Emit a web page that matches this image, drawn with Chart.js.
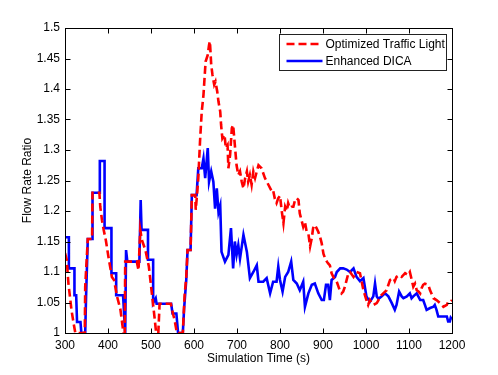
<!DOCTYPE html>
<html>
<head>
<meta charset="utf-8">
<script src="https://cdn.jsdelivr.net/npm/chart.js@4.4.1/dist/chart.umd.min.js"></script>
<style>
  html, body { margin: 0; padding: 0; background: #fff; }
  #wrap { width: 498px; height: 375px; }
</style>
</head>
<body>
<div id="wrap"><canvas id="flowChart" width="498" height="375"></canvas></div>
<script>
// series: simulation time (s) and flow rate ratio
const seriesLabels = ['Optimized Traffic Light', 'Enhanced DICA'];

const lightTime = [300, 304, 308, 315, 320, 324, 346, 347, 353, 363, 364, 380, 382, 386, 390, 395, 401, 409, 414, 421,
  429, 433, 436, 439, 440, 467, 471, 475, 479, 487, 495, 502, 508, 512, 517, 520, 546, 551, 555, 559,
  561, 574, 578, 582, 585, 592, 595, 603, 604, 607, 610, 614, 618, 622, 624, 627, 632, 635, 637, 640,
  643, 647, 650, 654, 657, 661, 663, 666, 671, 674, 678, 680, 684, 688, 691, 695, 699, 703, 707, 711,
  715, 719, 723, 726, 730, 734, 738, 742, 746, 750, 757, 765, 773, 781, 784, 788, 792, 796, 800, 804,
  808, 812, 816, 819, 823, 827, 831, 835, 839, 843, 846, 850, 854, 858, 862, 866, 870, 874, 877, 881,
  885, 889, 893, 897, 901, 905, 909, 912, 916, 920, 924, 928, 932, 936, 940, 943, 947, 951, 955, 959,
  963, 971, 978, 986, 994, 1001, 1005, 1009, 1013, 1017, 1025, 1029, 1033, 1040, 1048, 1052, 1056, 1064, 1067, 1071,
  1077, 1083, 1091, 1098, 1102, 1110, 1114, 1118, 1122, 1126, 1129, 1133, 1137, 1145, 1149, 1157, 1164, 1172, 1180, 1188,
  1191, 1197, 1200];
const lightRatio = [1.131, 1.12, 1.081, 1.038, 1.016, 1.0, 1.0, 1.076, 1.154, 1.154, 1.23, 1.23, 1.207, 1.185, 1.169, 1.152, 1.125, 1.092, 1.087, 1.06,
  1.038, 1.016, 1.0, 1.0, 1.117, 1.117, 1.103, 1.169, 1.152, 1.136, 1.109, 1.065, 1.027, 1.0, 1.0, 1.048, 1.048, 1.032, 1.021, 1.005,
  1.0, 1.0, 1.06, 1.092, 1.136, 1.136, 1.226, 1.226, 1.202, 1.226, 1.254, 1.314, 1.363, 1.39, 1.412, 1.445, 1.456, 1.472, 1.478, 1.44,
  1.423, 1.407, 1.412, 1.396, 1.379, 1.363, 1.341, 1.319, 1.325, 1.303, 1.308, 1.27, 1.292, 1.336, 1.341, 1.308, 1.275, 1.259, 1.265, 1.248,
  1.237, 1.254, 1.265, 1.248, 1.259, 1.243, 1.265, 1.254, 1.265, 1.275, 1.27, 1.254, 1.243, 1.232, 1.234, 1.22, 1.213, 1.221, 1.225, 1.2,
  1.18, 1.207, 1.2, 1.213, 1.205, 1.207, 1.207, 1.218, 1.221, 1.218, 1.196, 1.185, 1.174, 1.182, 1.166, 1.163, 1.142, 1.156, 1.172, 1.177,
  1.172, 1.166, 1.158, 1.147, 1.13, 1.122, 1.117, 1.114, 1.111, 1.098, 1.092, 1.087, 1.084, 1.076, 1.068, 1.065, 1.068, 1.076, 1.087, 1.098,
  1.1, 1.092, 1.1, 1.098, 1.07, 1.054, 1.046, 1.054, 1.049, 1.046, 1.049, 1.054, 1.06, 1.065, 1.07, 1.079, 1.087, 1.09, 1.085, 1.092,
  1.095, 1.092, 1.098, 1.095, 1.1, 1.076, 1.081, 1.07, 1.068, 1.065, 1.073, 1.079, 1.081, 1.079, 1.07, 1.057, 1.054, 1.049, 1.043, 1.046,
  1.051, 1.051, 1.054];

const dicaTime = [300, 309, 309, 322, 322, 326, 328, 336, 338, 347, 349, 353, 364, 364, 381, 381, 392, 392, 408, 408,
  419, 419, 435, 440, 442, 445, 473, 476, 478, 493, 493, 505, 505, 511, 513, 547, 550, 559, 563, 574,
  577, 582, 585, 592, 595, 606, 610, 618, 622, 626, 632, 635, 640, 645, 649, 653, 657, 661, 664, 672,
  680, 686, 691, 695, 699, 703, 707, 715, 723, 730, 738, 746, 750, 761, 769, 777, 784, 792, 796, 800,
  806, 812, 819, 826, 831, 839, 846, 854, 858, 866, 874, 881, 889, 897, 902, 907, 912, 916, 920, 928,
  932, 940, 947, 955, 963, 971, 978, 986, 994, 1001, 1009, 1017, 1021, 1025, 1029, 1036, 1044, 1052, 1060, 1067,
  1071, 1077, 1083, 1087, 1095, 1102, 1106, 1110, 1118, 1126, 1133, 1137, 1141, 1149, 1157, 1160, 1164, 1168, 1188, 1191,
  1195, 1197, 1200];
const dicaRatio = [1.157, 1.157, 1.106, 1.106, 1.062, 1.062, 1.018, 1.018, 1.0, 1.0, 1.06, 1.154, 1.154, 1.23, 1.23, 1.282, 1.282, 1.172, 1.172, 1.098,
  1.098, 1.062, 1.062, 1.0, 1.136, 1.117, 1.117, 1.218, 1.169, 1.169, 1.12, 1.12, 1.049, 1.057, 1.048, 1.048, 1.032, 1.032, 1.0, 1.0,
  1.04, 1.087, 1.136, 1.136, 1.226, 1.226, 1.27, 1.27, 1.286, 1.254, 1.303, 1.248, 1.265, 1.248, 1.204, 1.237, 1.198, 1.209, 1.133, 1.117,
  1.128, 1.172, 1.106, 1.15, 1.128, 1.144, 1.122, 1.161, 1.133, 1.09, 1.1, 1.111, 1.084, 1.084, 1.09, 1.065, 1.084, 1.084, 1.109, 1.087,
  1.068, 1.092, 1.1, 1.117, 1.087, 1.081, 1.07, 1.084, 1.043, 1.065, 1.079, 1.081, 1.065, 1.054, 1.054, 1.079, 1.079, 1.054, 1.087, 1.092,
  1.1, 1.106, 1.106, 1.104, 1.1, 1.106, 1.092, 1.085, 1.09, 1.06, 1.051, 1.06, 1.081, 1.06, 1.056, 1.06, 1.065, 1.06, 1.049, 1.038,
  1.046, 1.068, 1.06, 1.057, 1.06, 1.065, 1.057, 1.06, 1.065, 1.054, 1.054, 1.046, 1.038, 1.041, 1.043, 1.046, 1.038, 1.027, 1.027, 1.019,
  1.019, 1.025, 1.022];

// axis ticks
const xTicks = [300, 400, 500, 600, 700, 800, 900, 1000, 1100, 1200];
const yTicks = [1, 1.05, 1.1, 1.15, 1.2, 1.25, 1.3, 1.35, 1.4, 1.45, 1.5];
const yTickLabels = ['1', '1.05', '1.1', '1.15', '1.2', '1.25', '1.3', '1.35', '1.4', '1.45', '1.5'];

const FONT = 'Liberation Sans, Arial, Helvetica, sans-serif';

function toPoints(xs, ys) {
    return xs.map((x, i) => ({ x: x, y: ys[i] }));
}

// box round the plot, with matlab style ticks pointing inward on all sides
const frameTicks = {
    id: 'frameTicks',
    afterDatasetsDraw(chart) {
        const { ctx, chartArea: a, scales } = chart;
        const L = Math.round(a.left) + 0.5, R = Math.round(a.right) + 0.5;
        const T = Math.round(a.top) + 0.5, B = Math.round(a.bottom) + 0.5;
        ctx.save();
        ctx.strokeStyle = '#000';
        ctx.lineWidth = 1;
        ctx.beginPath();
        scales.x.ticks.forEach(t => {
            const px = Math.round(scales.x.getPixelForValue(t.value)) + 0.5;
            ctx.moveTo(px, B); ctx.lineTo(px, B - 5);
            ctx.moveTo(px, T); ctx.lineTo(px, T + 5);
        });
        scales.y.ticks.forEach(t => {
            const py = Math.round(scales.y.getPixelForValue(t.value)) + 0.5;
            ctx.moveTo(L, py); ctx.lineTo(L + 5, py);
            ctx.moveTo(R, py); ctx.lineTo(R - 5, py);
        });
        ctx.stroke();
        ctx.strokeRect(L, T, R - L, B - T);
        ctx.restore();
    }
};

// legend box in the top right corner of the plot
const boxLegend = {
    id: 'boxLegend',
    afterDraw(chart) {
        const { ctx, chartArea: a } = chart;
        const sets = chart.data.datasets;
        ctx.save();
        ctx.font = '12px ' + FONT;
        const textW = Math.max(...sets.map(d => ctx.measureText(d.label).width));
        const w = Math.round(48 + textW), h = 36;
        const x0 = Math.round(a.right - 6 - w) + 0.5, y0 = Math.round(a.top + 6) + 0.5;
        ctx.fillStyle = '#fff';
        ctx.fillRect(x0, y0, w, h);
        ctx.strokeStyle = '#222';
        ctx.lineWidth = 1;
        ctx.strokeRect(x0, y0, w, h);
        sets.forEach((d, i) => {
            const cy = y0 + 9.5 + i * 17;
            ctx.beginPath();
            ctx.strokeStyle = d.borderColor;
            ctx.lineWidth = d.borderWidth;
            ctx.setLineDash(d.borderDash || []);
            ctx.moveTo(x0 + 7, cy);
            ctx.lineTo(x0 + 43, cy);
            ctx.stroke();
            ctx.setLineDash([]);
            ctx.fillStyle = '#000';
            ctx.textBaseline = 'middle';
            ctx.fillText(d.label, x0 + 46, cy + 0.5);
        });
        ctx.restore();
    }
};

const data = {
    datasets: [{
        label: seriesLabels[0],
        data: toPoints(lightTime, lightRatio),
        borderColor: '#ff0000',
        borderWidth: 2.6,
        borderDash: [8, 4],
        pointRadius: 0,
        tension: 0,
        fill: false
    }, {
        label: seriesLabels[1],
        data: toPoints(dicaTime, dicaRatio),
        borderColor: '#0000ff',
        borderWidth: 2.6,
        pointRadius: 0,
        tension: 0,
        fill: false
    }]
};

const config = {
    type: 'line',
    data: data,
    options: {
        responsive: false,
        animation: false,
        layout: { padding: { left: 0, right: 46, top: 28, bottom: 0 } },
        plugins: {
            legend: { display: false },
            tooltip: { enabled: false }
        },
        scales: {
            x: {
                type: 'linear',
                min: 300,
                max: 1200,
                grid: { display: false, drawTicks: false },
                border: { display: false },
                afterBuildTicks: s => { s.ticks = xTicks.map(v => ({ value: v })); },
                afterFit: s => { s.height = 42; },
                ticks: {
                    color: '#000',
                    padding: 5,
                    maxRotation: 0,
                    font: { family: FONT, size: 12 },
                    callback: v => String(v)
                },
                title: {
                    display: true,
                    text: 'Simulation Time (s)',
                    color: '#000',
                    font: { family: FONT, size: 12 },
                    padding: { top: 0, bottom: 9 }
                }
            },
            y: {
                type: 'linear',
                min: 1,
                max: 1.5,
                grid: { display: false, drawTicks: false },
                border: { display: false },
                afterBuildTicks: s => { s.ticks = yTicks.map(v => ({ value: v })); },
                afterFit: s => { s.width = 65; },
                ticks: {
                    color: '#000',
                    padding: 5,
                    font: { family: FONT, size: 12 },
                    callback: (v, i) => yTickLabels[i]
                },
                title: {
                    display: true,
                    text: 'Flow Rate Ratio',
                    color: '#000',
                    font: { family: FONT, size: 12 },
                    padding: { top: 20, bottom: 0 }
                }
            }
        }
    },
    plugins: [frameTicks, boxLegend]
};

// Render the chart
const flowChart = new Chart(document.getElementById('flowChart'), config);
</script>
</body>
</html>
